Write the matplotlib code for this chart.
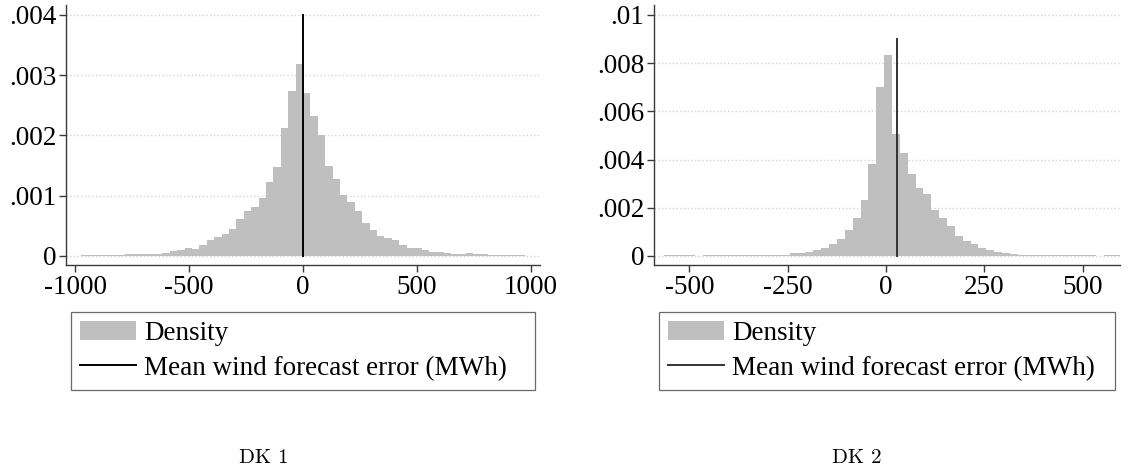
import numpy as np
import matplotlib
matplotlib.use("Agg")
import matplotlib.pyplot as plt
from matplotlib.ticker import FuncFormatter

# DK 1: histogram of wind forecast error, bins of 32.5 MWh from -975 to 975
dk1_edges = np.arange(-975, 976, 32.5)
dk1_density = [
    0.00001, 0.00001, 0.000015, 0.000015, 0.00002, 0.00002, 0.00003, 0.00003,
    0.00004, 0.00004, 0.00004, 0.00005, 0.00008, 0.00010, 0.00013, 0.00012,
    0.00019, 0.00026, 0.00031, 0.00037, 0.00045, 0.00062, 0.00075, 0.00082,
    0.00097, 0.00122, 0.00147, 0.00212, 0.00274, 0.00318,
    0.00270, 0.00233, 0.00200, 0.00149, 0.00127, 0.00102, 0.00089, 0.00075,
    0.00055, 0.00043, 0.00034, 0.00030, 0.00027, 0.00019, 0.00014, 0.00014,
    0.00010, 0.00007, 0.00006, 0.00005, 0.00004, 0.00003, 0.00005, 0.00003,
    0.000025, 0.00002, 0.00002, 0.000015, 0.00001, 0.00001,
]
dk1_mean = 0
dk1_line_top = 0.004

# DK 2: bins of 20 MWh from -565 to 595
dk2_edges = np.arange(-565, 596, 20)
dk2_density = [
    0.00002, 0.00002, 0.00002, 0.00002, 0.0, 0.00002, 0.00002, 0.00002,
    0.00003, 0.00003, 0.00003, 0.00004, 0.00004, 0.00005, 0.00005, 0.00006,
    0.00011, 0.00013, 0.00017, 0.00025, 0.00034, 0.00051, 0.00070, 0.00108,
    0.00156, 0.00234, 0.00380, 0.00703, 0.00834,
    0.00506, 0.00428, 0.00342, 0.00284, 0.00259, 0.00190, 0.00156, 0.00126,
    0.00083, 0.00063, 0.00050, 0.00033, 0.00025, 0.00018, 0.00012, 0.00007,
    0.00004, 0.00003, 0.00003, 0.00002, 0.00002, 0.00002, 0.00002, 0.00002,
    0.00002, 0.00002, 0.0, 0.00002, 0.00002,
]
dk2_mean = 27
dk2_line_top = 0.009

panel_titles = ["DK 1", "DK 2"]
dk1_xticks = [-1000, -500, 0, 500, 1000]
dk1_yticks = [0, 0.001, 0.002, 0.003, 0.004]
dk2_xticks = [-500, -250, 0, 250, 500]
dk2_yticks = [0, 0.002, 0.004, 0.006, 0.008, 0.01]

plt.rcParams['font.family'] = ['Liberation Serif', 'DejaVu Serif']
plt.rcParams['font.size'] = 19.5
plt.rcParams['axes.unicode_minus'] = False

bar_col = '#bfbfbf'
axis_col = '#3a3a3a'


def stata_fmt(v, pos):
    if abs(v) < 1e-12:
        return "0"
    s = ("%.3f" % v).rstrip('0')
    return s.replace("0.", ".", 1)


fig = plt.figure(figsize=(11.3, 4.74), dpi=100)
ax1 = fig.add_axes([0.0584, 0.441, 0.4195, 0.5485])
ax2 = fig.add_axes([0.5788, 0.441, 0.4124, 0.5485])

panels = [
    (ax1, dk1_edges, dk1_density, dk1_mean, dk1_line_top, dk1_xticks, dk1_yticks,
     (-1040, 1040), (-0.000149, 0.004166), 'black'),
    (ax2, dk2_edges, dk2_density, dk2_mean, dk2_line_top, dk2_xticks, dk2_yticks,
     (-590, 595), (-0.000373, 0.010415), '#333333'),
]

for ax, edges, dens, mean, top, xt, yt, xl, yl, lc in panels:
    ax.grid(axis='y', color='#d4d4d4', linestyle=':', linewidth=1.0)
    ax.set_axisbelow(True)
    bars = ax.bar(edges[:-1], dens, width=np.diff(edges), align='edge',
                  color=bar_col, linewidth=0, zorder=2)
    line, = ax.plot([mean, mean], [0, top], color=lc, linewidth=1.4, zorder=3)
    ax.set_xlim(*xl)
    ax.set_ylim(*yl)
    ax.set_xticks(xt)
    ax.set_yticks(yt)
    ax.yaxis.set_major_formatter(FuncFormatter(stata_fmt))
    for s in ['top', 'right']:
        ax.spines[s].set_visible(False)
    for s in ['left', 'bottom']:
        ax.spines[s].set_color(axis_col)
        ax.spines[s].set_linewidth(1.0)
    ax.tick_params(colors=axis_col, labelcolor='black', length=5, width=1.0, pad=2)
    leg = ax.legend([bars, line], ['Density', 'Mean wind forecast error (MWh)'],
                    loc='upper left', bbox_to_anchor=(0.01, -0.28, 0.98, 0.1),
                    mode='expand', frameon=True, fancybox=False,
                    handlelength=2.05, handletextpad=0.3, borderpad=0.35,
                    labelspacing=0.35, borderaxespad=0, fontsize=19.5)
    leg.get_frame().set_edgecolor('#444444')
    leg.get_frame().set_linewidth(0.9)

fig.text(0.233, 0.034, panel_titles[0], ha='center', va='center',
         family='cmr10', fontsize=15)
fig.text(0.758, 0.034, panel_titles[1], ha='center', va='center',
         family='cmr10', fontsize=15)

fig.savefig('out.png', dpi=100)
